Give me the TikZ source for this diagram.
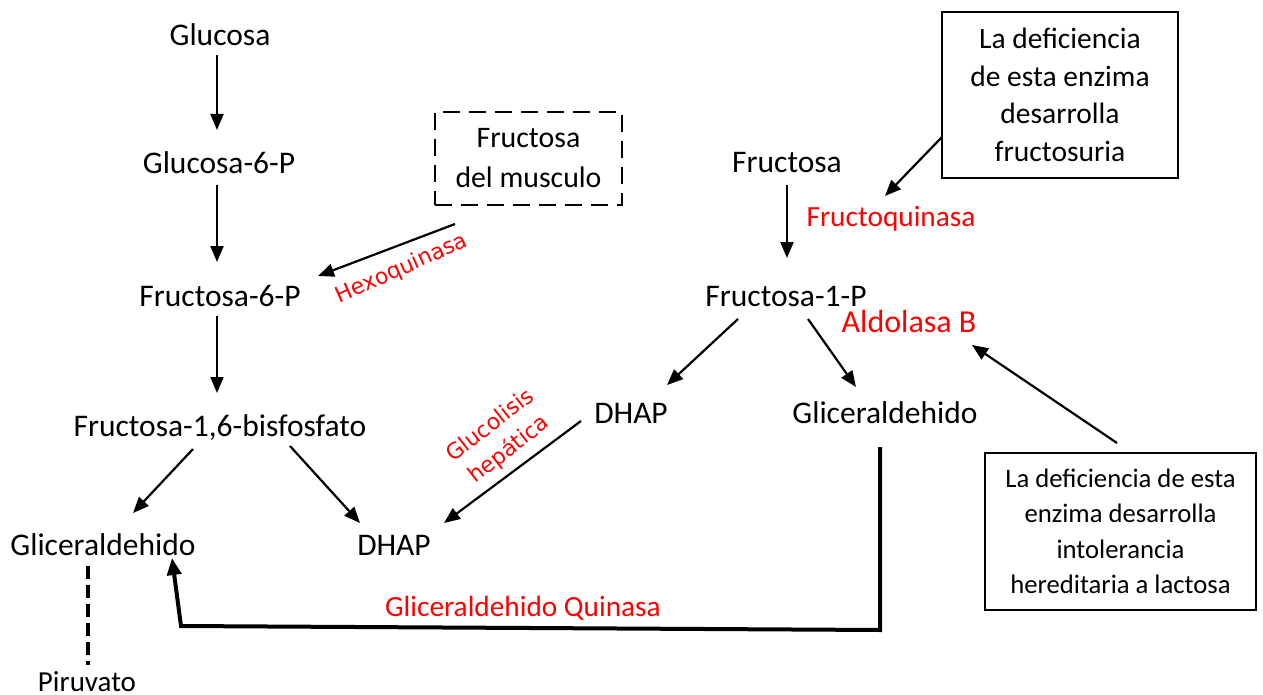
\documentclass[tikz,border=0pt]{standalone}
\usepackage{fontspec}
\setmainfont{Carlito}
\newfontfamily\dejavu{DejaVu Sans}
\usetikzlibrary{arrows.meta,calc}
\begin{document}
\begin{tikzpicture}[x=1pt,y=-1pt,
  lbl/.style={font=\fontsize{31.5}{36}\selectfont, inner sep=0pt},
  enz/.style={text=red, font=\fontsize{29.3}{34}\selectfont, inner sep=0pt},
  enzdv/.style={text=red, font=\dejavu\fontsize{22}{30}\selectfont, inner sep=0pt, align=center},
  arr/.style={-{Triangle[length=16pt,width=13pt]}, line width=2.2pt},
  box/.style={draw, line width=2pt, align=center, inner sep=0pt}
]
\useasboundingbox (0,0) rectangle (1263,695);
% left pathway
\node[lbl] (glucosa) at (220,35) {Glucosa};
\node[lbl] (g6p) at (219,163) {Glucosa-6-P};
\node[lbl] (f6p) at (220,296) {Fructosa-6-P};
\node[lbl] (f16) at (220,428) {Fructosa-1,6-bisfosfato};
\node[lbl] (glicL) at (103,545) {Gliceraldehido};
\node[lbl] (dhapL) at (394,545) {DHAP};
\node[lbl, font=\fontsize{29}{32}\selectfont] (piru) at (87,682) {Piruvato};
% right pathway
\node[lbl] (fru) at (787,163) {Fructosa};
\node[lbl] (f1p) at (786,296) {Fructosa-1-P};
\node[lbl] (dhapR) at (631,413) {DHAP};
\node[lbl] (glicR) at (885,413) {Gliceraldehido};
% boxes
\node[box, dash pattern=on 17pt off 9pt, line width=2.5pt, minimum width=187pt, minimum height=93pt,
      font=\fontsize{29.8}{40}\selectfont] (musc) at (528.5,158.5) {Fructosa\\del musculo};
\node[box, minimum width=236pt, minimum height=166pt, font=\fontsize{29.5}{37.5}\selectfont]
      (def1) at (1060,95) {La deficiencia\\de esta enzima\\desarrolla\\fructosuria};
\node[box, minimum width=271pt, minimum height=157pt, font=\fontsize{26.7}{35.5}\selectfont]
      (def2) at (1120.5,531.5) {La deficiencia de esta\\enzima desarrolla\\intolerancia\\hereditaria a lactosa};
% enzyme labels
\node[enz] (fq) at (891,219) {Fructoquinasa};
\node[enz, font=\fontsize{32}{36}\selectfont] (aldo) at (909,322) {Aldolasa B};
\node[enz] (gq) at (523,608) {Gliceraldehido Quinasa};
\node[enzdv, rotate=24] (hexo) at (402,269) {Hexoquinasa};
\node[enzdv, rotate=38] (gluco) at (500,438) {Glucolisis\\hepática};
% arrows
\draw[arr] ($(glucosa)+(-3,20)$) -- ($(g6p)+(-2,-33)$);
\draw[arr] ($(g6p)+(-2,22)$) -- ($(f6p)+(-3,-34)$);
\draw[arr] ($(f6p)+(-3,20)$) -- ($(f16)+(-3,-35)$);
\draw[arr] ($(f16)+(-27,21)$) -- ($(glicL)+(30,-32)$);
\draw[arr] ($(f16)+(70,18)$) -- ($(dhapL)+(-34,-22)$);
\draw[arr] ($(musc)+(-73.5,65.5)$) -- ($(f6p)+(98,-20)$);
\draw[arr] ($(dhapR)+(-50,8)$) -- ($(dhapL)+(50,-22)$);
\draw[arr] ($(fru)+(0,22)$) -- ($(f1p)+(1,-38)$);
\draw[arr] ($(def1)+(-118,42)$) -- ($(fq)+(-6,-23)$);
\draw[arr] ($(f1p)+(-48,23)$) -- ($(dhapR)+(36,-28)$);
\draw[arr] ($(f1p)+(22,23)$) -- ($(glicR)+(-29,-26)$);
\draw[arr] ($(def2)+(-3.5,-88.5)$) -- ($(aldo)+(63,23)$);
% thick connector
\draw[line width=4pt, line join=miter, -{Triangle[length=17pt,width=14pt]}]
  ($(glicR)+(-5,34)$) -- ($(glicR)+(-5,217)$) -- ($(glicL)+(78,81)$) -- ($(glicL)+(69,13)$);
% dashed to piruvato
\draw[line width=4pt, dash pattern=on 13pt off 6pt] ($(glicL)+(-15,21)$) -- ($(piru)+(1,-17)$);
\end{tikzpicture}
\end{document}
